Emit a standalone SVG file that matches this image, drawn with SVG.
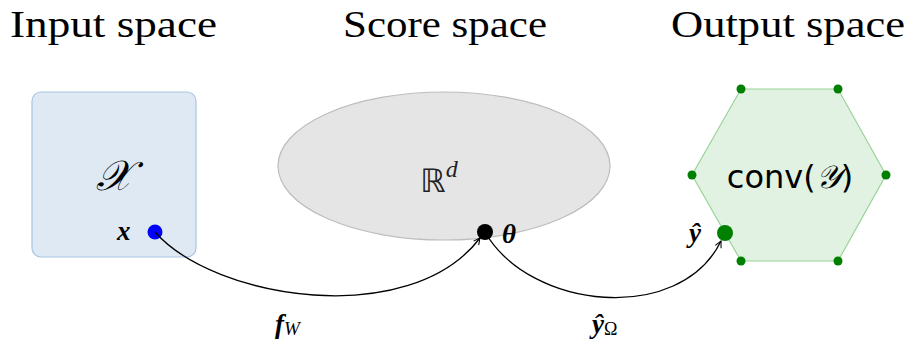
<svg xmlns="http://www.w3.org/2000/svg" width="915" height="339" viewBox="0 0 915 339">
<style>
.title{font-family:"Liberation Serif",serif;font-size:38px;fill:#000}
.math{font-family:"Liberation Serif",serif;font-style:italic;font-weight:bold;font-size:27px;fill:#000}
.conn{fill:none;stroke:#000;stroke-width:1.3}
.vert{fill:#008000}
</style>
<defs>
<marker id="arr" viewBox="0 0 10 10" refX="9" refY="5" markerWidth="8" markerHeight="8" orient="auto" markerUnits="userSpaceOnUse">
<path d="M1,1 L9,5 L1,9" fill="none" stroke="#000" stroke-width="1.3"/>
</marker>
</defs>
<rect width="915" height="339" fill="#fff"/>
<text class="title" x="10" y="37" textLength="207" lengthAdjust="spacingAndGlyphs">Input space</text>
<text class="title" x="343" y="37" textLength="204" lengthAdjust="spacingAndGlyphs">Score space</text>
<text class="title" x="671" y="37" textLength="234" lengthAdjust="spacingAndGlyphs">Output space</text>
<g id="input">
<rect x="32" y="92" width="164" height="165" rx="9" fill="#dfe9f3" stroke="#a9c5e0" stroke-width="1.2"/>
<text x="114" y="190" font-family="Liberation Serif,serif" font-style="italic" font-size="42" text-anchor="middle">𝒳</text>
<circle cx="155" cy="232" r="7.5" fill="#0000ff"/>
<text class="math" x="117" y="240">x</text>
</g>
<g id="score">
<ellipse cx="444" cy="166" rx="166" ry="74" fill="#e5e5e5" stroke="#bdbdbd" stroke-width="1.2"/>
<text x="439" y="192" font-family="DejaVu Sans,sans-serif" font-size="32" text-anchor="middle" fill="#222">ℝ<tspan font-family="Liberation Serif,serif" font-style="italic" font-size="24" dy="-15">d</tspan></text>
<circle cx="485" cy="232" r="8" fill="#000"/>
<text class="math" x="502" y="243">θ</text>
</g>
<g id="output">
<polygon points="741,89 838,89 886,175 838,261 741,261 692,175" fill="#e2f2e2" stroke="#99d399" stroke-width="1.2"/>
<circle class="vert" cx="741" cy="89" r="4.5"/>
<circle class="vert" cx="838" cy="89" r="4.5"/>
<circle class="vert" cx="886" cy="175" r="4.5"/>
<circle class="vert" cx="838" cy="261" r="4.5"/>
<circle class="vert" cx="741" cy="261" r="4.5"/>
<circle class="vert" cx="692" cy="175" r="4.5"/>
<text x="790" y="188" font-family="DejaVu Sans,sans-serif" font-size="32" text-anchor="middle">conv(<tspan font-family="Liberation Serif,serif" font-style="italic">𝒴</tspan>)</text>
<circle cx="725" cy="233" r="8" fill="#008000"/>
<text class="math" x="689" y="242">ŷ</text>
</g>
<g id="connectors">
<path class="conn" d="M155,232 C215,300 410,330 480,238" marker-end="url(#arr)"/>
<path class="conn" d="M485,232 C530,310 680,325 721,241" marker-end="url(#arr)"/>
</g>
<text class="math" x="275" y="333">f<tspan font-weight="normal" font-size="19" dy="2">W</tspan></text>
<text class="math" x="592" y="333">ŷ<tspan font-weight="normal" font-style="normal" font-size="18" dy="2">Ω</tspan></text>
</svg>
